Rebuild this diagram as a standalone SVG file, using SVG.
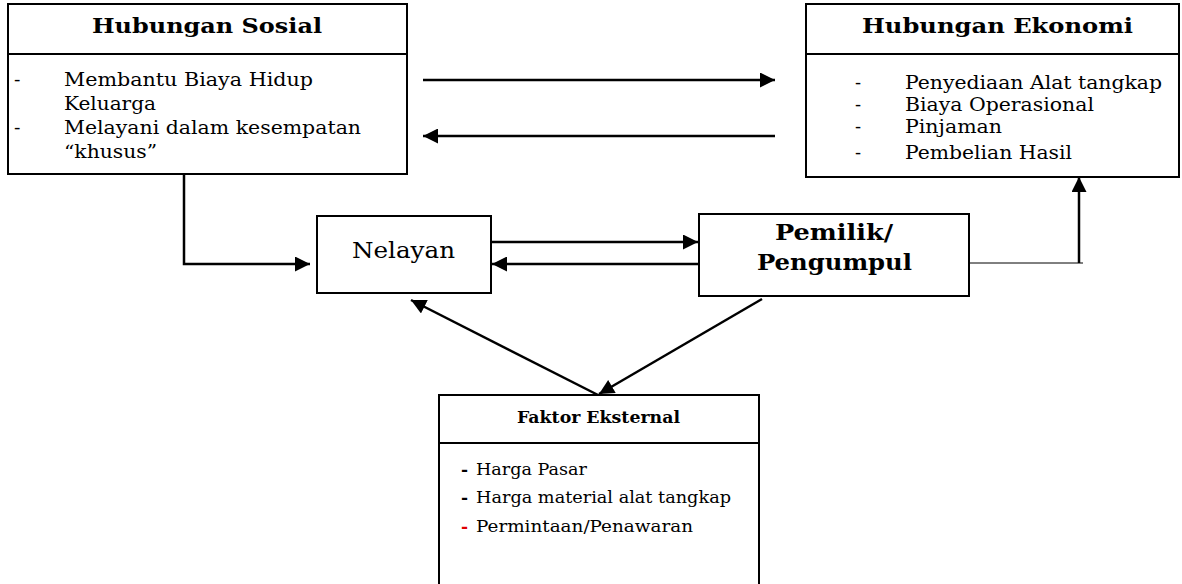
<svg xmlns="http://www.w3.org/2000/svg" width="1182" height="584" viewBox="0 0 1182 584">
<style>
.box{fill:#fff;stroke:#000;stroke-width:2}
.div{stroke:#000;stroke-width:2}
.t{font-family:"DejaVu Serif","Liberation Serif",serif;fill:#000}
.b{font-weight:bold}
.c{stroke:#000;stroke-width:2.5;fill:none}
.thin{stroke:#000;stroke-width:1;fill:none}
</style>
<defs>
<marker id="ah" viewBox="0 0 10 10" refX="10" refY="5" markerWidth="6.2" markerHeight="6" markerUnits="strokeWidth" orient="auto">
<path d="M0,0 L10,5 L0,10 z" fill="#000"/>
</marker>
</defs>
<g id="hubungan-sosial">
<rect class="box" x="8" y="4" width="399" height="170"/>
<line class="div" x1="8" y1="54" x2="407" y2="54"/>
<text class="t b" x="92" y="33" font-size="21" textLength="230" lengthAdjust="spacingAndGlyphs">Hubungan Sosial</text>
<text class="t" font-size="19">
<tspan x="14" y="86">-</tspan><tspan x="64" y="86" textLength="249" lengthAdjust="spacingAndGlyphs">Membantu Biaya Hidup</tspan>
<tspan x="64" y="110" textLength="92" lengthAdjust="spacingAndGlyphs">Keluarga</tspan>
<tspan x="14" y="134">-</tspan><tspan x="64" y="134" textLength="297" lengthAdjust="spacingAndGlyphs">Melayani dalam kesempatan</tspan>
<tspan x="64" y="158" textLength="93" lengthAdjust="spacingAndGlyphs">“khusus”</tspan>
</text>
</g>
<g id="hubungan-ekonomi">
<rect class="box" x="806" y="4" width="373" height="173"/>
<line class="div" x1="806" y1="54" x2="1179" y2="54"/>
<text class="t b" x="862" y="33" font-size="21" textLength="271" lengthAdjust="spacingAndGlyphs">Hubungan Ekonomi</text>
<text class="t" font-size="18">
<tspan x="855" y="89">-</tspan><tspan x="905" y="89" textLength="257" lengthAdjust="spacingAndGlyphs">Penyediaan Alat tangkap</tspan>
<tspan x="855" y="111">-</tspan><tspan x="905" y="111" textLength="189" lengthAdjust="spacingAndGlyphs">Biaya Operasional</tspan>
<tspan x="855" y="133">-</tspan><tspan x="905" y="133" textLength="97" lengthAdjust="spacingAndGlyphs">Pinjaman</tspan>
<tspan x="855" y="159">-</tspan><tspan x="905" y="159" textLength="167" lengthAdjust="spacingAndGlyphs">Pembelian Hasil</tspan>
</text>
</g>
<g id="nelayan">
<rect class="box" x="317" y="216" width="174" height="77"/>
<text class="t" x="352" y="258" font-size="23" textLength="103" lengthAdjust="spacingAndGlyphs">Nelayan</text>
</g>
<g id="pemilik-pengumpul">
<rect class="box" x="699" y="214" width="270" height="82"/>
<text class="t b" font-size="22">
<tspan x="775" y="240" textLength="118" lengthAdjust="spacingAndGlyphs">Pemilik/</tspan>
<tspan x="757" y="270" textLength="155" lengthAdjust="spacingAndGlyphs">Pengumpul</tspan>
</text>
</g>
<g id="faktor-eksternal">
<rect class="box" x="439" y="395" width="320" height="200"/>
<line class="div" x1="439" y1="443" x2="759" y2="443"/>
<text class="t b" x="517" y="423" font-size="16" textLength="163" lengthAdjust="spacingAndGlyphs">Faktor Eksternal</text>
<text class="t" font-size="17">
<tspan x="461" y="475" font-weight="bold">-</tspan><tspan x="476" y="475" textLength="111" lengthAdjust="spacingAndGlyphs">Harga Pasar</tspan>
<tspan x="461" y="503" font-weight="bold">-</tspan><tspan x="476" y="503" textLength="255" lengthAdjust="spacingAndGlyphs">Harga material alat tangkap</tspan>
<tspan x="461" y="532" font-weight="bold" fill="#e00000">-</tspan><tspan x="476" y="532" textLength="217" lengthAdjust="spacingAndGlyphs">Permintaan/Penawaran</tspan>
</text>
</g>
<g id="connectors">
<line class="c" x1="423" y1="80" x2="775" y2="80" marker-end="url(#ah)"/>
<line class="c" x1="775" y1="136" x2="423" y2="136" marker-end="url(#ah)"/>
<polyline class="c" points="184,174 184,264 310,264" marker-end="url(#ah)"/>
<line class="c" x1="491" y1="242" x2="698" y2="242" marker-end="url(#ah)"/>
<line class="c" x1="698" y1="264" x2="492" y2="264" marker-end="url(#ah)"/>
<line class="thin" x1="969" y1="263" x2="1083" y2="263"/>
<line class="c" x1="1079" y1="263" x2="1079" y2="177" marker-end="url(#ah)"/>
<line class="c" x1="598" y1="395" x2="411" y2="300" marker-end="url(#ah)"/>
<line class="c" x1="762" y1="299" x2="599" y2="394" marker-end="url(#ah)"/>
</g>
</svg>
